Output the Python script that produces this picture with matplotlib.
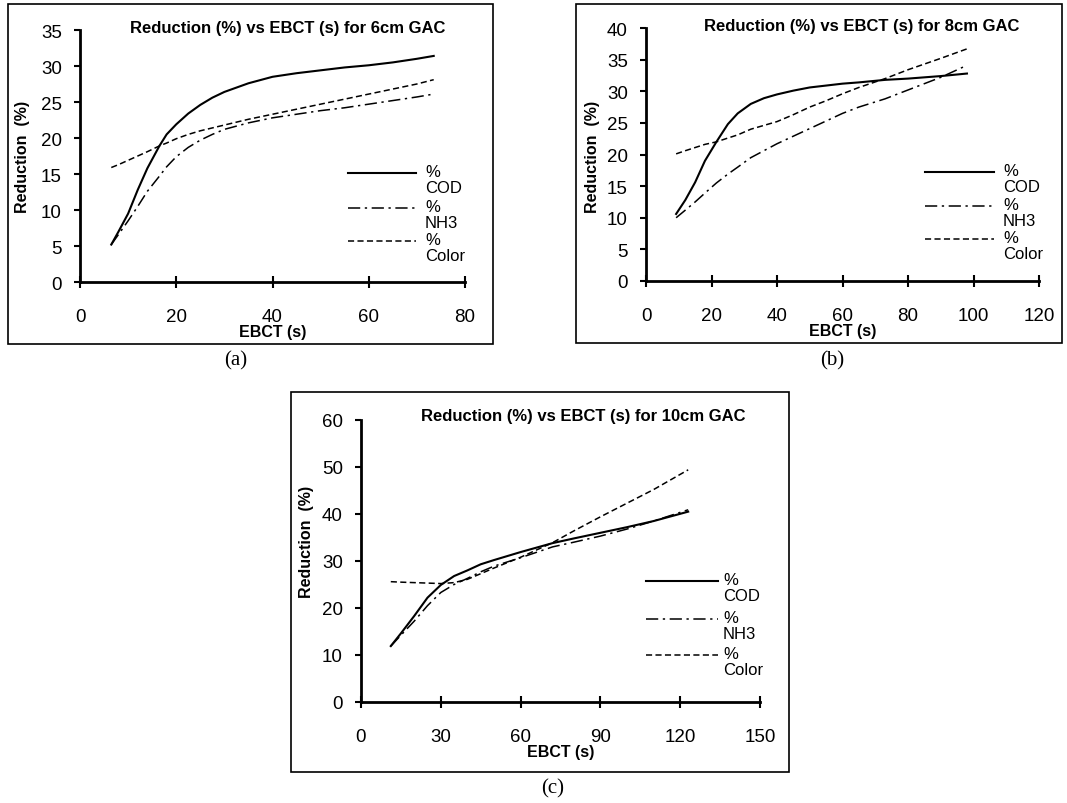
import matplotlib.pyplot as plt
from matplotlib.lines import Line2D
from matplotlib.patches import Rectangle

plt.rcParams['font.family'] = ['Liberation Sans', 'DejaVu Sans']

W, H = 1067, 804

# ---- data (EBCT s, reduction %) ----
ebct_a = [6.5, 8, 10, 12, 14, 16.5, 18, 20, 22.5, 25, 27.5, 30, 35, 40, 45, 50, 55, 60, 65, 70, 73.5]
cod_a = [5.2, 7.0, 9.5, 12.8, 15.8, 18.9, 20.5, 21.9, 23.4, 24.6, 25.6, 26.4, 27.6, 28.5, 29.0,
         29.4, 29.8, 30.1, 30.5, 31.0, 31.4]
nh3_a = [5.2, 6.6, 8.5, 10.5, 12.6, 14.7, 16.0, 17.4, 18.7, 19.7, 20.5, 21.2, 22.1, 22.8, 23.3,
         23.8, 24.2, 24.7, 25.2, 25.7, 26.1]
color_a = [15.9, 16.3, 16.9, 17.5, 18.1, 18.9, 19.3, 19.9, 20.5, 21.0, 21.4, 21.8, 22.6, 23.3, 24.0,
           24.7, 25.4, 26.1, 26.8, 27.5, 28.1]

ebct_b = [9.2, 12, 15, 18, 21.5, 25, 28, 32, 36, 40, 45, 50, 55, 60, 65, 73, 80, 90, 98]
cod_b = [10.6, 12.8, 15.6, 19.0, 22.0, 24.8, 26.5, 28.0, 28.9, 29.5, 30.1, 30.6, 30.9, 31.2, 31.4,
         31.8, 32.0, 32.4, 32.8]
nh3_b = [10.0, 11.2, 12.5, 13.9, 15.5, 16.9, 18.0, 19.5, 20.6, 21.7, 22.9, 24.1, 25.3, 26.5, 27.5,
         28.8, 30.2, 32.2, 34.1]
color_b = [20.1, 20.6, 21.1, 21.6, 22.0, 22.6, 23.1, 24.0, 24.6, 25.2, 26.3, 27.5, 28.5, 29.6, 30.6,
           32.0, 33.4, 35.2, 36.7]

ebct_c = [11.2, 15, 20, 25, 30, 35, 40, 45, 50, 60, 72, 80, 90, 100, 110, 123]
cod_c = [11.9, 14.6, 18.3, 22.2, 24.9, 26.8, 28.0, 29.3, 30.2, 31.9, 33.8, 34.8, 36.0, 37.2, 38.5, 40.5]
nh3_c = [11.9, 14.2, 17.2, 20.5, 23.3, 25.0, 26.3, 27.7, 28.9, 30.7, 33.0, 34.0, 35.3, 36.8, 38.5, 40.9]
color_c = [25.6, 25.5, 25.4, 25.3, 25.2, 25.4, 26.1, 27.3, 28.5, 30.8, 33.9, 36.4, 39.4, 42.3, 45.2, 49.4]

titles = ['Reduction (%) vs EBCT (s) for 6cm GAC',
          'Reduction (%) vs EBCT (s) for 8cm GAC',
          'Reduction (%) vs EBCT (s) for 10cm GAC']
xlims = [80, 120, 150]
xsteps = [20, 20, 30]
ylims = [35, 40, 60]
ysteps = [5, 5, 10]
panel_tags = ['(a)', '(b)', '(c)']
legend_names = ['COD', 'NH3', 'Color']

series = [
    (ebct_a, cod_a, nh3_a, color_a),
    (ebct_b, cod_b, nh3_b, color_b),
    (ebct_c, cod_c, nh3_c, color_c),
]

# layout in pixels (left, top, right, bottom) of the axes, and frame boxes
axes_px = [(80, 31, 465, 283), (646, 29, 1039, 282), (361, 421, 760, 703)]
box_px = [(8, 5, 493, 345), (576, 5, 1062, 344), (291, 393, 789, 773)]
title_px = [(288, 29), (862, 27), (583, 417)]
ylabel_px = [(23, 157), (592, 157), (307, 542)]
tag_px = [(236, 361), (832, 361), (553, 789)]
leg_px = [(348, 416, 425, [174, 209, 242]),
          (925, 994, 1003, [173, 207, 240]),
          (646, 718, 723, [582, 620, 656])]

solid = dict(color='black', lw=1.5, ls='-', solid_joinstyle='round')
dashdot = dict(color='black', lw=1.1, ls=(0, (8, 3, 1.5, 3)))
dashed = dict(color='black', lw=1.1, ls=(0, (4, 2.2)))


def fx(x):
    return x / W


def fy(y):
    return 1 - y / H


fig = plt.figure(figsize=(W / 100, H / 100), dpi=100)

for i in range(3):
    l, t, r, b = axes_px[i]
    ax = fig.add_axes([fx(l), fy(b), fx(r - l), (b - t) / H])
    x, cod, nh3, col = series[i]
    ax.plot(x, cod, **solid)
    ax.plot(x, nh3, **dashdot)
    ax.plot(x, col, **dashed)

    ax.set_xlim(0, xlims[i])
    ax.set_ylim(0, ylims[i])
    ax.set_xticks(range(0, xlims[i] + 1, xsteps[i]))
    ax.set_yticks(range(0, ylims[i] + 1, ysteps[i]))
    for s in ['top', 'right']:
        ax.spines[s].set_visible(False)
    for s in ['left', 'bottom']:
        ax.spines[s].set_linewidth(2)
    ax.tick_params(axis='y', direction='out', length=4, width=1.5, pad=9, labelsize=13.5)
    ax.tick_params(axis='x', direction='inout', length=8, width=1.5, pad=15, labelsize=13.5)
    ax.set_xlabel('EBCT (s)', fontsize=11.5, fontweight='bold', labelpad=-1)

    fig.text(fx(ylabel_px[i][0]), fy(ylabel_px[i][1]), 'Reduction  (%)', rotation=90,
             ha='center', va='center', fontsize=11.5, fontweight='bold')
    fig.text(fx(title_px[i][0]), fy(title_px[i][1]), titles[i],
             ha='center', va='center', fontsize=12, fontweight='bold')
    fig.text(fx(tag_px[i][0]), fy(tag_px[i][1]), panel_tags[i], ha='center', va='center',
             fontsize=15, family=['Liberation Serif', 'DejaVu Serif'])

    # frame around each panel
    bl, bt, br, bb = box_px[i]
    fig.add_artist(Rectangle((fx(bl), fy(bb)), fx(br - bl), (bb - bt) / H,
                             transform=fig.transFigure, fill=False, ec='black', lw=1.2))

    # legend drawn like the Excel one: line, then "%" and name on next line
    x0, x1, xt, ys = leg_px[i]
    for sty, name, yy in zip([solid, dashdot, dashed], legend_names, ys):
        fig.add_artist(Line2D([fx(x0), fx(x1)], [fy(yy), fy(yy)],
                              transform=fig.transFigure, **sty))
        fig.text(fx(xt), fy(yy - 9), '%\n' + name, ha='left', va='top', fontsize=12,
                 linespacing=1.05)

fig.savefig('out.png', dpi=100)
